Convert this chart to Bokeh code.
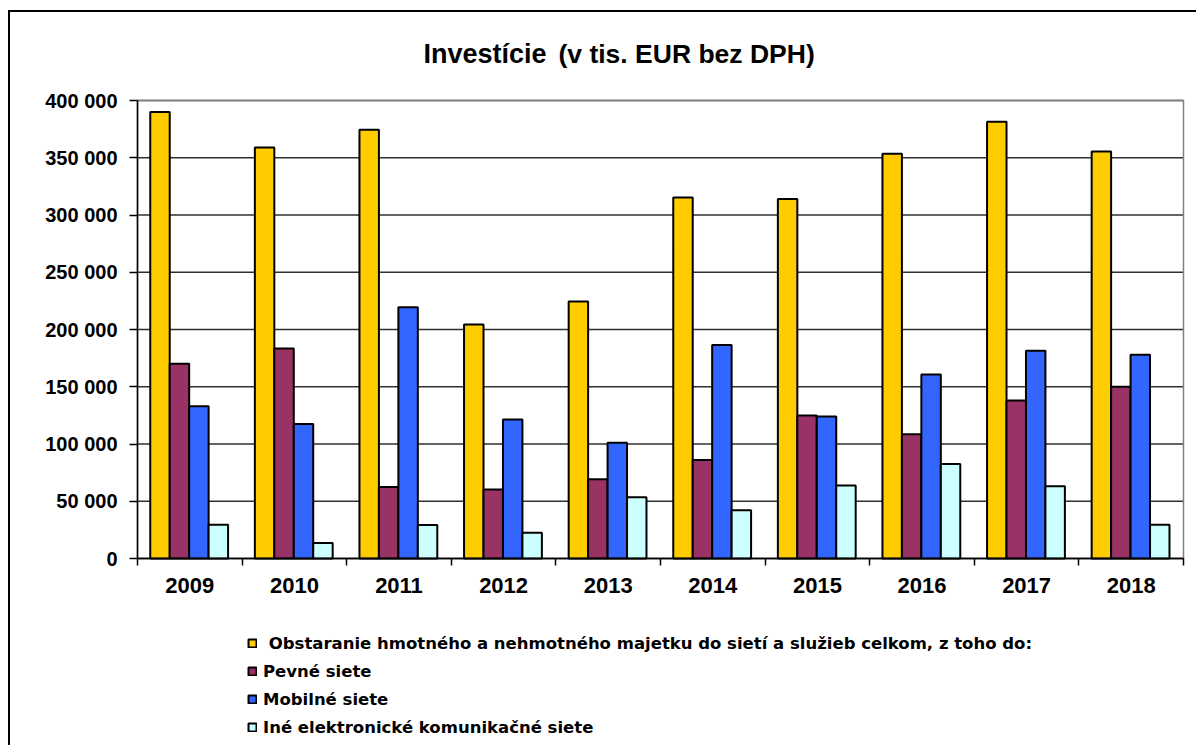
import numpy as np
from bokeh.plotting import figure
from bokeh.models import (ColumnDataSource, FixedTicker, Legend, LegendItem, Range1d, Label, LinearAxis)
from bokeh.transform import dodge
from bokeh.embed import file_html
from bokeh.resources import INLINE

years = ["2009", "2010", "2011", "2012", "2013", "2014", "2015", "2016", "2017", "2018"]
celkom = [390000, 359000, 374500, 204300, 224500, 315200, 314000, 353500, 381500, 355500]
pevne = [170000, 183500, 62500, 60200, 69300, 86000, 125000, 108500, 138000, 150000]
mobilne = [133000, 117500, 219500, 121500, 101200, 186500, 124000, 160800, 181500, 178000]
ine = [29500, 13600, 29200, 22400, 53500, 42200, 63800, 82500, 63000, 29500]

series_names = [
    " Obstaranie hmotného a nehmotného majetku do sietí a služieb celkom, z toho do:",
    "Pevné siete",
    "Mobilné siete",
    "Iné elektronické komunikačné siete",
]
series_keys = ["celkom", "pevne", "mobilne", "ine"]
colors = ["#FFCC00", "#993366", "#3366FF", "#CCFFFF"]
y_ticks = [0, 50000, 100000, 150000, 200000, 250000, 300000, 350000, 400000]
y_max = 400000
title_main = "Investície"
title_sub = "(v tis. EUR bez DPH)"

# canvas geometry (pixels): plot area inside the full-canvas frame
W, H = 1188, 735
PL, PR, PT, PB = 127, 1173, 88, 546
n = len(years)
px_x = (PR - PL) / n
px_y = (PB - PT) / y_max

xc = [i + 0.5 for i in range(n)]
source = ColumnDataSource(dict(xc=xc, celkom=celkom, pevne=pevne, mobilne=mobilne, ine=ine))
grid_src = ColumnDataSource(dict(y=y_ticks, x0=[0] * len(y_ticks), x1=[n] * len(y_ticks)))

p = figure(width=W, height=H, output_backend="svg", toolbar_location=None,
           x_range=Range1d(-PL / px_x, n + (W - PR) / px_x),
           y_range=Range1d(-(H - PB) / px_y, y_max + PT / px_y),
           x_axis_type=None, y_axis_type=None,
           min_border=0, min_border_left=0, min_border_right=0, min_border_top=0, min_border_bottom=0)
p.styles = {"border-top": "2px solid black", "border-left": "2px solid black",
            "margin-top": "10px", "margin-left": "8px"}
p.background_fill_color = "white"
p.border_fill_color = "white"
p.outline_line_color = None
p.xgrid.grid_line_color = None
p.ygrid.grid_line_color = None

# gridlines and plot-area outline
p.segment(x0="x0", x1="x1", y0="y", y1="y", source=grid_src, line_color="#303030", line_width=1.5)
p.quad(left=0, right=n, bottom=0, top=y_max, fill_color=None, line_color="#808080", line_width=1.5)

offsets = [-0.285, -0.099, 0.087, 0.273]
renderers = []
for key, col, off in zip(series_keys, colors, offsets):
    r = p.vbar(x=dodge("xc", off), top=key, width=0.186, bottom=0, source=source,
               fill_color=col, line_color="black", line_width=2)
    renderers.append(r)

# x axis: labels at centres, tick marks at category boundaries
xax = LinearAxis(fixed_location=0, bounds=(0, n))
xax.ticker = FixedTicker(ticks=xc, minor_ticks=list(range(n + 1)))
xax.major_label_overrides = {v: y for v, y in zip(xc, years)}
xax.major_tick_line_color = None
xax.major_tick_out = 7
xax.major_tick_in = 0
xax.minor_tick_line_color = "black"
xax.minor_tick_line_width = 1.5
xax.minor_tick_out = 7
xax.minor_tick_in = 0
xax.major_label_standoff = 12
xax.major_label_text_font = "Liberation Sans"
xax.major_label_text_font_style = "bold"
xax.major_label_text_font_size = "22px"
xax.major_label_text_color = "black"
xax.axis_line_color = "black"
xax.axis_line_width = 1.5
p.add_layout(xax, "below")

yax = LinearAxis(fixed_location=0, bounds=(0, y_max))
yax.ticker = FixedTicker(ticks=y_ticks)
yax.major_label_overrides = {v: f"{v:,}".replace(",", " ") for v in y_ticks}
yax.minor_tick_line_color = None
yax.major_tick_out = 8
yax.major_tick_in = 0
yax.major_tick_line_color = "black"
yax.major_tick_line_width = 1.5
yax.major_label_standoff = 12
yax.major_label_text_font = "Liberation Sans"
yax.major_label_text_font_style = "bold"
yax.major_label_text_font_size = "20px"
yax.major_label_text_color = "black"
yax.axis_line_color = "black"
yax.axis_line_width = 1.5
p.add_layout(yax, "left")

# title (two sizes), screen units from the frame's bottom-left
t1 = Label(x=413, y=H - 41, x_units="screen", y_units="screen", text=title_main,
           text_font="Liberation Sans", text_font_style="bold", text_font_size="27px",
           text_color="black", text_baseline="alphabetic", text_align="left")
t2 = Label(x=548, y=H - 41, x_units="screen", y_units="screen", text=title_sub,
           text_font="Liberation Sans", text_font_style="bold", text_font_size="26.5px",
           text_color="black", text_baseline="alphabetic", text_align="left")
p.add_layout(t1)
p.add_layout(t2)

legend = Legend(items=[LegendItem(label=nm, renderers=[r]) for nm, r in zip(series_names, renderers)],
                location=(237, 10), orientation="vertical",
                label_text_font="DejaVu Sans", label_text_font_style="bold",
                label_text_font_size="16.5px", label_text_color="black",
                glyph_width=10, glyph_height=10, label_standoff=6, label_height=20,
                spacing=8, padding=0, margin=0,
                border_line_color=None, background_fill_alpha=0)
p.add_layout(legend, "center")

open("out.html", "w").write(file_html(p, INLINE))
